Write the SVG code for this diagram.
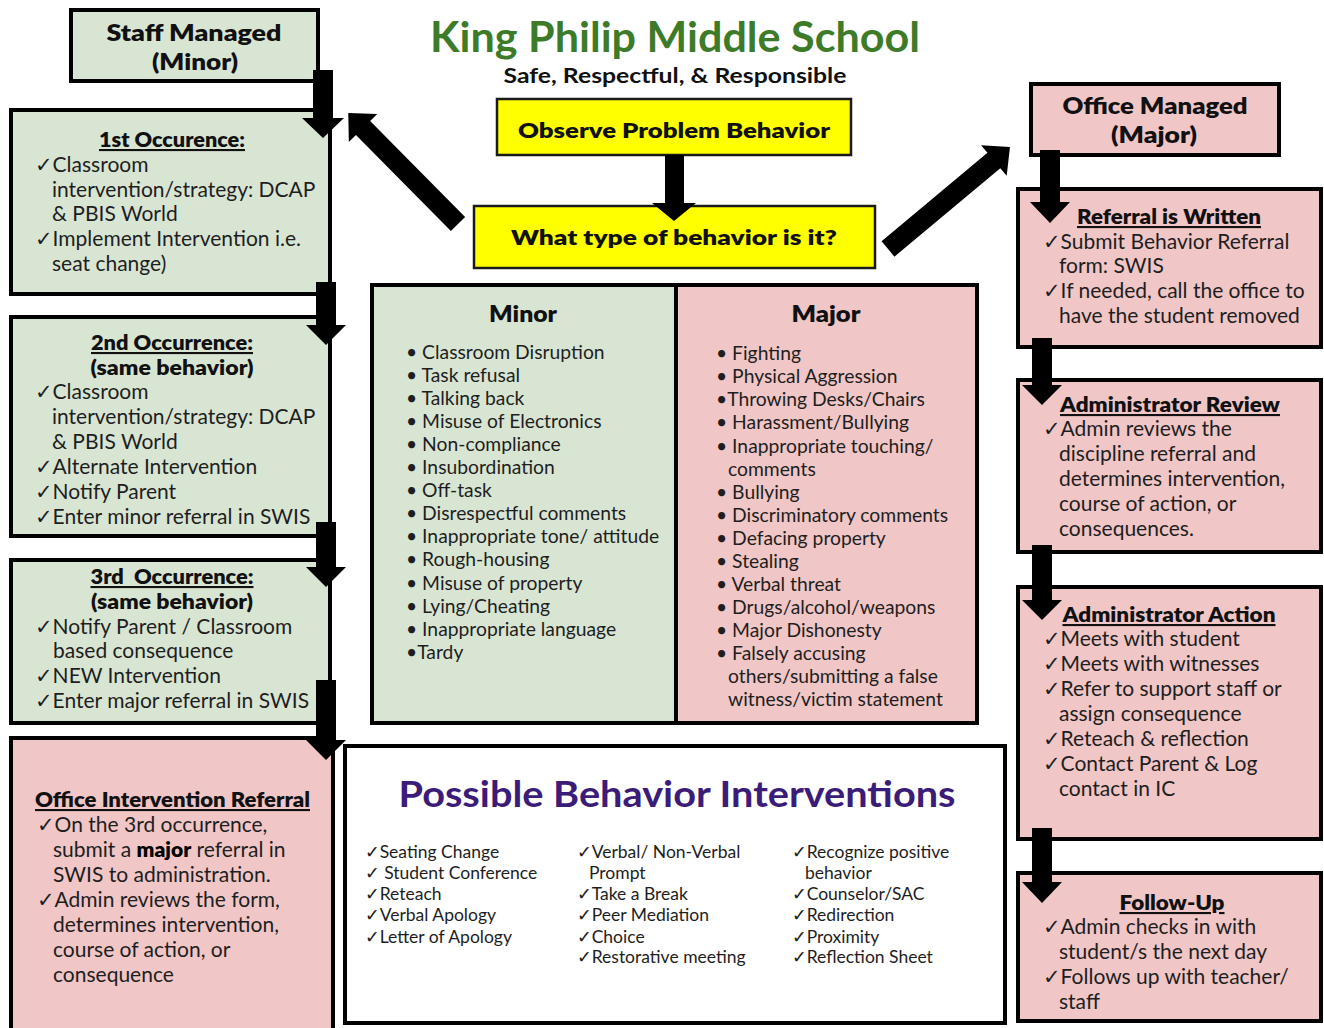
<svg xmlns="http://www.w3.org/2000/svg" width="1324" height="1028" viewBox="0 0 1324 1028">
  <style>
    .g { fill: #d9e5d3; stroke: #000; stroke-width: 4; }
    .p { fill: #f0c6c6; stroke: #000; stroke-width: 4; }
    .y { fill: #ffff00; stroke: #1a1a1a; stroke-width: 2.5; }
    .w { fill: #ffffff; stroke: #000; stroke-width: 4; }
    text { font-family: "Lato", "Noto Sans", "DejaVu Sans", sans-serif; fill: #1e1e1e; }
    .h { font-weight: 800; font-size: 21px; text-anchor: middle; fill: #111; }
    .h22 { font-size: 22px; }
    .u { text-decoration: underline; }
    .t { font-size: 21px; }
    .li { font-size: 19.3px; }
    .iv { font-size: 17.5px; }
    .arr { fill: #000; }
  </style>

  <!-- Page heading -->
  <g id="heading">
    <text x="675" y="52" text-anchor="middle" font-size="42" font-weight="700" style="fill:#3d7b28" textLength="490" lengthAdjust="spacingAndGlyphs">King Philip Middle School</text>
    <text x="675" y="83" text-anchor="middle" font-size="20" font-weight="700" style="fill:#111" textLength="343" lengthAdjust="spacingAndGlyphs">Safe, Respectful, &amp; Responsible</text>
  </g>

  <!-- Central decision -->
  <g id="observe">
    <rect class="y" x="497" y="99" width="354" height="56"/>
    <text class="h" x="674" y="138" textLength="312" lengthAdjust="spacingAndGlyphs">Observe Problem Behavior</text>
  </g>
  <g id="what-type">
    <rect class="y" x="474" y="206" width="401" height="62"/>
    <text class="h" x="674" y="245" textLength="326" lengthAdjust="spacingAndGlyphs">What type of behavior is it?</text>
  </g>

  <!-- Staff managed (minor) column -->
  <g id="staff-managed">
    <rect class="g" x="71" y="10" width="247" height="71"/>
    <text class="h h22" x="194" y="41" textLength="175" lengthAdjust="spacingAndGlyphs">Staff Managed</text>
    <text class="h h22" x="195" y="70" textLength="86" lengthAdjust="spacingAndGlyphs">(Minor)</text>
  </g>

  <g id="first-occurrence">
    <rect class="g" x="11" y="110" width="319" height="184"/>
    <text class="h u" x="172" y="147" textLength="146" lengthAdjust="spacingAndGlyphs">1st Occurence:</text>
    <text class="t" x="35" y="172">✓Classroom</text>
    <text class="t" x="52" y="197">intervention/strategy: DCAP</text>
    <text class="t" x="52" y="221">&amp; PBIS World</text>
    <text class="t" x="35" y="246">✓Implement Intervention i.e.</text>
    <text class="t" x="52" y="271">seat change)</text>
  </g>

  <g id="second-occurrence">
    <rect class="g" x="11" y="317" width="319" height="219"/>
    <text class="h u" x="172" y="350" textLength="162" lengthAdjust="spacingAndGlyphs">2nd Occurrence:</text>
    <text class="h" x="172" y="375" textLength="163" lengthAdjust="spacingAndGlyphs">(same behavior)</text>
    <text class="t" x="35" y="399">✓Classroom</text>
    <text class="t" x="52" y="424">intervention/strategy: DCAP</text>
    <text class="t" x="52" y="449">&amp; PBIS World</text>
    <text class="t" x="35" y="474">✓Alternate Intervention</text>
    <text class="t" x="35" y="499">✓Notify Parent</text>
    <text class="t" x="35" y="524">✓Enter minor referral in SWIS</text>
  </g>

  <g id="third-occurrence">
    <rect class="g" x="11" y="560" width="319" height="163"/>
    <text class="h u" x="172" y="584" xml:space="preserve" textLength="163" lengthAdjust="spacingAndGlyphs">3rd  Occurrence:</text>
    <text class="h" x="172" y="609" textLength="162" lengthAdjust="spacingAndGlyphs">(same behavior)</text>
    <text class="t" x="35" y="634">✓Notify Parent / Classroom</text>
    <text class="t" x="53" y="658">based consequence</text>
    <text class="t" x="35" y="683">✓NEW Intervention</text>
    <text class="t" x="35" y="708">✓Enter major referral in SWIS</text>
  </g>

  <g id="office-intervention-referral">
    <rect class="p" x="11" y="738" width="322" height="310"/>
    <text class="h u" x="35" y="807" style="text-anchor:start" textLength="275" lengthAdjust="spacingAndGlyphs">Office Intervention Referral</text>
    <text class="t" x="37" y="832">✓On the 3rd occurrence,</text>
    <text class="t" x="53" y="857">submit a <tspan font-weight="800" style="fill:#000">major</tspan> referral in</text>
    <text class="t" x="53" y="882">SWIS to administration.</text>
    <text class="t" x="37" y="907">✓Admin reviews the form,</text>
    <text class="t" x="53" y="932">determines intervention,</text>
    <text class="t" x="53" y="957">course of action, or</text>
    <text class="t" x="53" y="982">consequence</text>
  </g>

  <!-- Minor / Major behaviour table -->
  <g id="behavior-table">
    <rect x="372" y="285" width="304" height="438" fill="#d9e5d3"/>
    <rect x="676" y="285" width="301" height="438" fill="#f0c6c6"/>
    <rect x="372" y="285" width="605" height="438" fill="none" stroke="#000" stroke-width="4"/>
    <line x1="676" y1="285" x2="676" y2="723" stroke="#000" stroke-width="4"/>

    <text class="h h22" x="523" y="322" textLength="68" lengthAdjust="spacingAndGlyphs">Minor</text>
    <text class="li" x="406" y="359">• Classroom Disruption</text>
    <text class="li" x="406" y="382">• Task refusal</text>
    <text class="li" x="406" y="405">• Talking back</text>
    <text class="li" x="406" y="428">• Misuse of Electronics</text>
    <text class="li" x="406" y="451">• Non-compliance</text>
    <text class="li" x="406" y="474">• Insubordination</text>
    <text class="li" x="406" y="497">• Off-task</text>
    <text class="li" x="406" y="520">• Disrespectful comments</text>
    <text class="li" x="406" y="543">• Inappropriate tone/ attitude</text>
    <text class="li" x="406" y="566">• Rough-housing</text>
    <text class="li" x="406" y="590">• Misuse of property</text>
    <text class="li" x="406" y="613">• Lying/Cheating</text>
    <text class="li" x="406" y="636">• Inappropriate language</text>
    <text class="li" x="406" y="659">•Tardy</text>

    <text class="h h22" x="826" y="322" textLength="69" lengthAdjust="spacingAndGlyphs">Major</text>
    <text class="li" x="716" y="360">• Fighting</text>
    <text class="li" x="716" y="383">• Physical Aggression</text>
    <text class="li" x="716" y="406">•Throwing Desks/Chairs</text>
    <text class="li" x="716" y="429">• Harassment/Bullying</text>
    <text class="li" x="716" y="453">• Inappropriate touching/</text>
    <text class="li" x="728" y="476">comments</text>
    <text class="li" x="716" y="499">• Bullying</text>
    <text class="li" x="716" y="522">• Discriminatory comments</text>
    <text class="li" x="716" y="545">• Defacing property</text>
    <text class="li" x="716" y="568">• Stealing</text>
    <text class="li" x="716" y="591">• Verbal threat</text>
    <text class="li" x="716" y="614">• Drugs/alcohol/weapons</text>
    <text class="li" x="716" y="637">• Major Dishonesty</text>
    <text class="li" x="716" y="660">• Falsely accusing</text>
    <text class="li" x="728" y="683">others/submitting a false</text>
    <text class="li" x="728" y="706">witness/victim statement</text>
  </g>

  <!-- Intervention options -->
  <g id="interventions">
    <rect class="w" x="345" y="746" width="660" height="277"/>
    <text x="677" y="807" text-anchor="middle" font-size="36" font-weight="700" style="fill:#3b1c78" textLength="557" lengthAdjust="spacingAndGlyphs">Possible Behavior Interventions</text>
    <text class="iv" x="365" y="858">✓Seating Change</text>
    <text class="iv" x="365" y="879">✓ Student Conference</text>
    <text class="iv" x="365" y="900">✓Reteach</text>
    <text class="iv" x="365" y="921">✓Verbal Apology</text>
    <text class="iv" x="365" y="943">✓Letter of Apology</text>

    <text class="iv" x="577" y="858">✓Verbal/ Non-Verbal</text>
    <text class="iv" x="589" y="879">Prompt</text>
    <text class="iv" x="577" y="900">✓Take a Break</text>
    <text class="iv" x="577" y="921">✓Peer Mediation</text>
    <text class="iv" x="577" y="943">✓Choice</text>
    <text class="iv" x="577" y="963">✓Restorative meeting</text>

    <text class="iv" x="792" y="858">✓Recognize positive</text>
    <text class="iv" x="805" y="879">behavior</text>
    <text class="iv" x="792" y="900">✓Counselor/SAC</text>
    <text class="iv" x="792" y="921">✓Redirection</text>
    <text class="iv" x="792" y="943">✓Proximity</text>
    <text class="iv" x="792" y="963">✓Reflection Sheet</text>
  </g>

  <!-- Office managed (major) column -->
  <g id="office-managed">
    <rect class="p" x="1031" y="84" width="248" height="71"/>
    <text class="h h22" x="1155" y="114" textLength="185" lengthAdjust="spacingAndGlyphs">Office Managed</text>
    <text class="h h22" x="1154" y="143" textLength="86" lengthAdjust="spacingAndGlyphs">(Major)</text>
  </g>

  <g id="referral-written">
    <rect class="p" x="1018" y="189" width="303" height="158"/>
    <text class="h u" x="1169" y="224" textLength="184" lengthAdjust="spacingAndGlyphs">Referral is Written</text>
    <text class="t" x="1043" y="249">✓Submit Behavior Referral</text>
    <text class="t" x="1059" y="273">form: SWIS</text>
    <text class="t" x="1043" y="298">✓If needed, call the office to</text>
    <text class="t" x="1059" y="323">have the student removed</text>
  </g>

  <g id="admin-review">
    <rect class="p" x="1018" y="380" width="303" height="172"/>
    <text class="h u" x="1170" y="412" textLength="220" lengthAdjust="spacingAndGlyphs">Administrator Review</text>
    <text class="t" x="1043" y="436">✓Admin reviews the</text>
    <text class="t" x="1059" y="461">discipline referral and</text>
    <text class="t" x="1059" y="486">determines intervention,</text>
    <text class="t" x="1059" y="511">course of action, or</text>
    <text class="t" x="1059" y="536">consequences.</text>
  </g>

  <g id="admin-action">
    <rect class="p" x="1018" y="587" width="303" height="252"/>
    <text class="h u" x="1169" y="622" textLength="213" lengthAdjust="spacingAndGlyphs">Administrator Action</text>
    <text class="t" x="1043" y="646">✓Meets with student</text>
    <text class="t" x="1043" y="671">✓Meets with witnesses</text>
    <text class="t" x="1043" y="696">✓Refer to support staff or</text>
    <text class="t" x="1059" y="721">assign consequence</text>
    <text class="t" x="1043" y="746">✓Reteach &amp; reflection</text>
    <text class="t" x="1043" y="771">✓Contact Parent &amp; Log</text>
    <text class="t" x="1059" y="796">contact in IC</text>
  </g>

  <g id="follow-up">
    <rect class="p" x="1018" y="873" width="303" height="148"/>
    <text class="h u" x="1172" y="910" textLength="105" lengthAdjust="spacingAndGlyphs">Follow-Up</text>
    <text class="t" x="1043" y="934">✓Admin checks in with</text>
    <text class="t" x="1059" y="959">student/s the next day</text>
    <text class="t" x="1043" y="984">✓Follows up with teacher/</text>
    <text class="t" x="1059" y="1009">staff</text>
  </g>

  <!-- Block arrows -->
  <g id="connectors" class="arr">
    <!-- staff column -->
    <polygon points="313,70 333,70 333,118 344,118 323,138 302,118 313,118"/>
    <polygon points="316,282 336,282 336,325 346,325 326,345 306,325 316,325"/>
    <polygon points="316,522 336,522 336,567 346,567 326,587 306,567 316,567"/>
    <polygon points="316,680 336,680 336,740 346,740 326,760 306,740 316,740"/>
    <!-- centre -->
    <polygon points="665,155 684,155 684,203 696,203 674,221 652,203 665,203"/>
    <!-- diagonals out of the decision box -->
    <g transform="translate(458,224) rotate(-134.7)">
      <polygon points="0,-10 135,-10 135,-20 156,0 135,20 135,10 0,10"/>
    </g>
    <g transform="translate(888,249) rotate(-39.9)">
      <polygon points="0,-10 138,-10 138,-20 159,0 138,20 138,10 0,10"/>
    </g>
    <!-- office column -->
    <polygon points="1040,150 1060,150 1060,202 1070,202 1050,223 1030,202 1040,202"/>
    <polygon points="1032,338 1052,338 1052,385 1062,385 1042,405 1022,385 1032,385"/>
    <polygon points="1032,545 1052,545 1052,600 1062,600 1042,620 1022,600 1032,600"/>
    <polygon points="1032,828 1052,828 1052,882 1062,882 1042,903 1022,882 1032,882"/>
  </g>
</svg>
